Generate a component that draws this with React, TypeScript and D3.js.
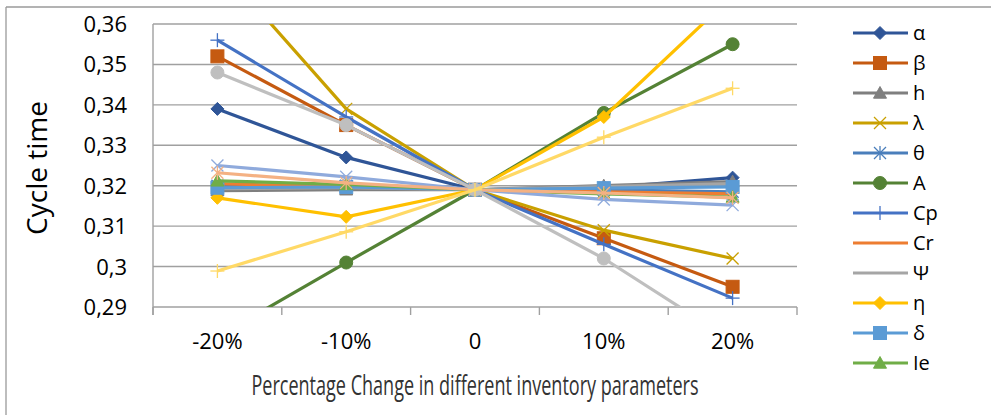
import React, { useLayoutEffect, useRef, useState } from "react";
import * as d3 from "d3";

const categories = ["-20%", "-10%", "0", "10%", "20%"];
const yTicks = [0.29, 0.3, 0.31, 0.32, 0.33, 0.34, 0.35, 0.36];
const yTickLabels = ["0,29", "0,3", "0,31", "0,32", "0,33", "0,34", "0,35", "0,36"];

const alphaVals = [0.339, 0.327, 0.319, 0.3195, 0.322];
const betaVals = [0.352, 0.335, 0.319, 0.307, 0.295];
const hVals = [0.3188, 0.319, 0.319, 0.320, 0.321];
const lambdaVals = [0.375, 0.339, 0.319, 0.309, 0.302];
const thetaVals = [0.320, 0.320, 0.319, 0.319, 0.3185];
const AVals = [0.2826, 0.301, 0.319, 0.338, 0.355];
const CpVals = [0.356, 0.337, 0.319, 0.3055, 0.2922];
const CrVals = [0.3205, 0.3198, 0.319, 0.3185, 0.318];
const psiVals = [0.3193, 0.3195, 0.319, 0.3198, 0.3205];
const etaVals = [0.317, 0.3123, 0.319, 0.337, 0.367];
const deltaVals = [0.3195, 0.3197, 0.319, 0.3194, 0.3197];
const IeVals = [0.3212, 0.3203, 0.319, 0.318, 0.3172];
const extraBlueVals = [0.325, 0.3222, 0.319, 0.3166, 0.3152];
const extraSalmonVals = [0.3232, 0.3207, 0.319, 0.3182, 0.317];
const extraYellowVals = [0.2989, 0.3086, 0.319, 0.332, 0.3441];
const extraGrayVals = [0.348, 0.335, 0.319, 0.302, 0.2816];

type Marker = "diamond" | "square" | "triangle" | "x" | "asterisk" | "circle" | "plus" | "none";
interface Series { name: string; values: number[]; color: string; marker: Marker; legend: boolean; }

const series: Series[] = [
  { name: "α", values: alphaVals, color: "#2F5597", marker: "diamond", legend: true },
  { name: "β", values: betaVals, color: "#C55A11", marker: "square", legend: true },
  { name: "h", values: hVals, color: "#7F7F7F", marker: "triangle", legend: true },
  { name: "λ", values: lambdaVals, color: "#C9A000", marker: "x", legend: true },
  { name: "θ", values: thetaVals, color: "#4A7EBB", marker: "asterisk", legend: true },
  { name: "A", values: AVals, color: "#548235", marker: "circle", legend: true },
  { name: "Cp", values: CpVals, color: "#4472C4", marker: "plus", legend: true },
  { name: "Cr", values: CrVals, color: "#ED7D31", marker: "none", legend: true },
  { name: "Ψ", values: psiVals, color: "#A5A5A5", marker: "none", legend: true },
  { name: "η", values: etaVals, color: "#FFC000", marker: "diamond", legend: true },
  { name: "δ", values: deltaVals, color: "#5B9BD5", marker: "square", legend: true },
  { name: "Ie", values: IeVals, color: "#70AD47", marker: "triangle", legend: true },
  { name: "s13", values: extraBlueVals, color: "#8FAADC", marker: "x", legend: false },
  { name: "s14", values: extraSalmonVals, color: "#F4B183", marker: "asterisk", legend: false },
  { name: "s15", values: extraGrayVals, color: "#BFBFBF", marker: "circle", legend: false },
  { name: "s16", values: extraYellowVals, color: "#FFD966", marker: "plus", legend: false },
];

const W = 991, H = 415;
const PL = 153, PR = 797, PT = 24, PB = 307;
const FONT = "'Open Sans', 'Liberation Sans', sans-serif";
const XTITLE_WIDTH = 447;

function MarkerShape({ type, x, y, color }: { type: Marker; x: number; y: number; color: string }) {
  const s = 6.5;
  switch (type) {
    case "diamond":
      return <polygon points={`${x},${y - s} ${x + s},${y} ${x},${y + s} ${x - s},${y}`} fill={color} stroke={color} strokeWidth={1} />;
    case "square":
      return <rect x={x - s} y={y - s} width={2 * s} height={2 * s} fill={color} stroke={color} strokeWidth={1} />;
    case "triangle":
      return <polygon points={`${x},${y - s} ${x + s},${y + s * 0.8} ${x - s},${y + s * 0.8}`} fill={color} stroke={color} strokeWidth={1} />;
    case "circle":
      return <circle cx={x} cy={y} r={s} fill={color} stroke={color} strokeWidth={1} />;
    case "x":
      return (
        <g stroke={color} strokeWidth={1.3}>
          <line x1={x - 6} y1={y - 6} x2={x + 6} y2={y + 6} />
          <line x1={x - 6} y1={y + 6} x2={x + 6} y2={y - 6} />
        </g>
      );
    case "asterisk":
      return (
        <g stroke={color} strokeWidth={1.3}>
          <line x1={x - 6} y1={y - 6} x2={x + 6} y2={y + 6} />
          <line x1={x - 6} y1={y + 6} x2={x + 6} y2={y - 6} />
          <line x1={x} y1={y - 7} x2={x} y2={y + 7} />
        </g>
      );
    case "plus":
      return (
        <g stroke={color} strokeWidth={1.3}>
          <line x1={x - 7} y1={y} x2={x + 7} y2={y} />
          <line x1={x} y1={y - 7} x2={x} y2={y + 7} />
        </g>
      );
    default:
      return null;
  }
}

export default function App() {
  const x = d3.scaleBand<string>().domain(categories).range([PL, PR]);
  const cx = (c: string) => (x(c) as number) + x.bandwidth() / 2;
  const y = d3.scaleLinear().domain([0.29, 0.36]).range([PB, PT]);
  const line = d3.line<number>().x((_, i) => cx(categories[i])).y((v) => y(v));
  const boundaries = [...categories.map((c) => x(c) as number), PR];
  const legendItems = series.filter((s) => s.legend);

  const titleRef = useRef<SVGTextElement>(null);
  const [sx, setSx] = useState(0.6);
  useLayoutEffect(() => {
    if (titleRef.current) {
      const w = titleRef.current.getComputedTextLength();
      if (w > 0) setSx(XTITLE_WIDTH / w);
    }
  }, []);

  return (
    <svg width={W} height={H} style={{ position: "fixed", left: 0, top: 0, background: "#fff" }} fontFamily={FONT}>
      <defs>
        <clipPath id="plot">
          <rect x={PL} y={PT} width={PR - PL} height={PB - PT} />
        </clipPath>
      </defs>
      <line x1={6} y1={7} x2={W} y2={7} stroke="#9A9A9A" strokeWidth={1.3} />
      <line x1={6} y1={7} x2={6} y2={H} stroke="#9A9A9A" strokeWidth={1.3} />

      {yTicks.map((t) => (
        <line key={t} x1={PL} x2={PR} y1={y(t)} y2={y(t)} stroke="#A0A0A0" strokeWidth={1.4} />
      ))}
      <line x1={PL} x2={PL} y1={PT} y2={PB + 8} stroke="#A0A0A0" strokeWidth={1.4} />
      {boundaries.map((b, i) => (
        <line key={i} x1={b} x2={b} y1={PB} y2={PB + 8} stroke="#A0A0A0" strokeWidth={1.4} />
      ))}

      {yTicks.map((t, i) => (
        <text key={t} x={127} y={y(t) + 8} textAnchor="end" fontSize={22} fill="#000">
          {yTickLabels[i]}
        </text>
      ))}
      {categories.map((c) => (
        <text key={c} x={cx(c)} y={349} textAnchor="middle" fontSize={22} fill="#000">
          {c}
        </text>
      ))}

      <g clipPath="url(#plot)">
        {series.map((s) => (
          <g key={s.name}>
            <path d={line(s.values) as string} fill="none" stroke={s.color} strokeWidth={3.2} strokeLinejoin="round" />
            {s.values.map((v, i) => (
              <MarkerShape key={i} type={s.marker} x={cx(categories[i])} y={y(v)} color={s.color} />
            ))}
          </g>
        ))}
      </g>

      <text x={0} y={0} transform={`translate(47,168) rotate(-90)`} textAnchor="middle" fontSize={27} fill="#000"
        textLength={134} lengthAdjust="spacingAndGlyphs">
        Cycle time
      </text>
      <text ref={titleRef} x={0} y={0} transform={`translate(475,395) scale(${sx},1)`} textAnchor="middle" fontSize={27} fill="#333">
        Percentage Change in different inventory parameters
      </text>

      {legendItems.map((s, i) => {
        const ly = 33 + i * 30;
        return (
          <g key={s.name}>
            <line x1={853} x2={908} y1={ly} y2={ly} stroke={s.color} strokeWidth={3} />
            <MarkerShape type={s.marker} x={880} y={ly} color={s.color} />
            <text x={913} y={ly + 7} fontSize={20} fill="#000">{s.name}</text>
          </g>
        );
      })}
    </svg>
  );
}
